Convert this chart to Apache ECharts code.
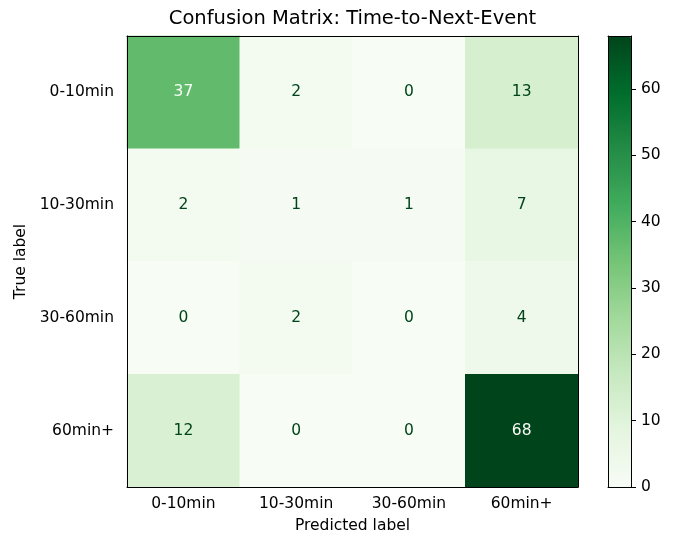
<!DOCTYPE html>
<html>
<head>
<meta charset="utf-8">
<script src="https://cdn.jsdelivr.net/npm/echarts@6/dist/echarts.min.js"></script>
<style>
    html, body { margin: 0; padding: 0; background: #fff; }
    #chart_id { width: 674px; height: 536px; }
</style>
</head>
<body>
<div id="chart_id"></div>
<script>
// 类别（预测 / 真实）
var predLabels = ['0-10min', '10-30min', '30-60min', '60min+'];
var trueLabels = ['0-10min', '10-30min', '30-60min', '60min+'];
// 每行是一个真实类别，每列是预测类别
var row0 = [37, 2, 0, 13];
var row1 = [2, 1, 1, 7];
var row2 = [0, 2, 0, 4];
var row3 = [12, 0, 0, 68];
var colorbarTicks = [0, 10, 20, 30, 40, 50, 60];
var valueMin = 0;
var valueMax = 68;
// matplotlib Greens
var greens = ['#f7fcf5', '#e5f5e0', '#c7e9c0', '#a1d99b', '#74c476', '#41ab5d', '#238b45', '#006d2c', '#00441b'];

initChart();

function initChart() {
    var myChart = echarts.init(document.getElementById('chart_id'));
    var rows = [row0, row1, row2, row3];
    var thresh = (valueMin + valueMax) / 2;
    var datas = [];
    for (var i = 0; i < rows.length; i++) {
        for (var j = 0; j < rows[i].length; j++) {
            var v = rows[i][j];
            datas.push({
                value: [j, i, v],
                label: { color: v > thresh ? greens[0] : greens[8] }
            });
        }
    }
    var font = 'DejaVu Sans';
    var fs = 15.5;
    var lineStyle = { color: '#000', width: 1 };
    var option = {
        animation: false,
        textStyle: { fontFamily: font },
        grid: [
            { left: 127, top: 36, width: 451, height: 451, outerBoundsMode: 'none' },
            { left: 608, top: 36, width: 23, height: 451, outerBoundsMode: 'none' }
        ],
        xAxis: [
            {
                type: 'category', gridIndex: 0, position: 'bottom', data: predLabels, z: 10,
                name: 'Predicted label', nameLocation: 'middle', nameGap: 31,
                nameTextStyle: { fontSize: fs, color: '#000' },
                axisLine: { lineStyle: lineStyle },
                axisTick: { alignWithLabel: true, length: 5, lineStyle: lineStyle },
                axisLabel: { fontSize: fs, color: '#000', margin: 9 },
                splitLine: { show: false }
            },
            {
                type: 'category', gridIndex: 0, position: 'top', data: predLabels, z: 10,
                name: 'Confusion Matrix: Time-to-Next-Event', nameLocation: 'middle', nameGap: 7,
                nameTextStyle: { fontSize: 19.5, color: '#000' },
                axisLine: { lineStyle: lineStyle },
                axisTick: { show: false },
                axisLabel: { show: false }
            },
            {
                type: 'value', gridIndex: 1, position: 'bottom', z: 10,
                axisLine: { show: true, onZero: false, lineStyle: lineStyle },
                axisTick: { show: false }, axisLabel: { show: false }, splitLine: { show: false }
            },
            {
                type: 'value', gridIndex: 1, position: 'top', z: 10,
                axisLine: { show: true, onZero: false, lineStyle: lineStyle },
                axisTick: { show: false }, axisLabel: { show: false }, splitLine: { show: false }
            }
        ],
        yAxis: [
            {
                type: 'category', gridIndex: 0, position: 'left', data: trueLabels, inverse: true, z: 10,
                name: 'True label', nameLocation: 'middle', nameGap: 98, nameRotate: 90,
                nameTextStyle: { fontSize: fs, color: '#000' },
                axisLine: { lineStyle: lineStyle },
                axisTick: { alignWithLabel: true, length: 5, lineStyle: lineStyle },
                axisLabel: { fontSize: fs, color: '#000', margin: 13 },
                splitLine: { show: false }
            },
            {
                type: 'category', gridIndex: 0, position: 'right', data: trueLabels, inverse: true, z: 10,
                axisLine: { lineStyle: lineStyle },
                axisTick: { show: false }, axisLabel: { show: false }
            },
            {
                type: 'value', gridIndex: 1, position: 'right', min: valueMin, max: valueMax, z: 10,
                axisLine: { show: true, onZero: false, lineStyle: lineStyle },
                axisTick: { show: true, length: 5, lineStyle: lineStyle, customValues: colorbarTicks },
                axisLabel: { fontSize: fs, color: '#000', margin: 10, customValues: colorbarTicks },
                splitLine: { show: false }
            },
            {
                type: 'value', gridIndex: 1, position: 'left', min: valueMin, max: valueMax, z: 10,
                axisLine: { show: true, onZero: false, lineStyle: lineStyle },
                axisTick: { show: false }, axisLabel: { show: false }, splitLine: { show: false }
            }
        ],
        visualMap: {
            type: 'continuous',
            min: valueMin, max: valueMax,
            calculable: false,
            seriesIndex: 0,
            orient: 'vertical',
            left: 608, top: 36,
            itemWidth: 23, itemHeight: 451,
            padding: 0,
            text: null,
            inRange: { color: greens }
        },
        series: [{
            type: 'heatmap',
            xAxisIndex: 0, yAxisIndex: 0,
            data: datas,
            label: { show: true, fontSize: fs, fontFamily: font },
            emphasis: { disabled: true }
        }]
    };
    myChart.setOption(option, true);
}
</script>
</body>
</html>
